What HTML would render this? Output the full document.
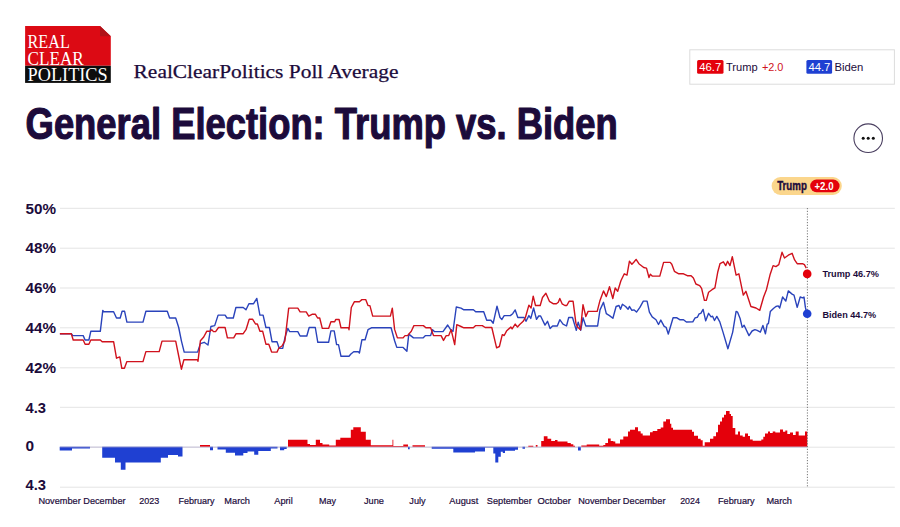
<!DOCTYPE html>
<html><head><meta charset="utf-8"><title>General Election: Trump vs. Biden</title>
<style>
html,body{margin:0;padding:0;background:#fff;}
body{width:900px;height:527px;position:relative;overflow:hidden;font-family:"Liberation Sans",sans-serif;}
</style></head><body>
<svg width="900" height="527" viewBox="0 0 900 527" style="position:absolute;left:0;top:0">
<rect x="60" y="207.8" width="834.8" height="1" fill="#e4e4e4"/>
<rect x="60" y="247.7" width="834.8" height="1" fill="#e4e4e4"/>
<rect x="60" y="287.5" width="834.8" height="1" fill="#e4e4e4"/>
<rect x="60" y="327.3" width="834.8" height="1" fill="#e4e4e4"/>
<rect x="60" y="367.3" width="834.8" height="1" fill="#e4e4e4"/>
<rect x="60" y="406.8" width="834.8" height="1" fill="#e4e4e4"/>
<rect x="60" y="446.7" width="834.8" height="1" fill="#e4e4e4"/>
<rect x="60" y="486.7" width="834.8" height="1" fill="#e4e4e4"/>
<path d="M200.0,446.7 L200.0,445.0 L210.0,445.0 L210.0,446.7 Z M288.0,446.7 L288.0,439.7 L307.5,439.7 L307.5,443.9 L310.0,443.9 L310.0,445.0 L315.8,445.0 L315.8,439.7 L320.0,439.7 L320.0,443.0 L322.5,443.0 L322.5,444.4 L329.2,444.4 L329.2,445.5 L335.8,445.5 L335.8,439.7 L340.3,439.7 L340.3,437.7 L350.8,437.7 L350.8,429.7 L353.3,429.7 L353.3,427.2 L360.8,427.2 L360.8,431.7 L365.8,431.7 L365.8,439.7 L370.8,439.7 L370.8,445.2 L392.5,445.2 L392.5,439.7 L393.3,439.7 L393.3,445.9 L403.3,445.9 L403.3,444.4 L408.0,444.4 L408.0,446.7 Z M412.5,446.7 L412.5,445.2 L425.0,445.2 L425.0,446.7 Z M528.3,446.7 L528.3,445.7 L533.3,445.7 L533.3,446.7 Z M535.8,446.7 L535.8,445.0 L537.5,445.0 L537.5,446.7 Z M541.2,446.7 L541.2,440.9 L543.8,440.9 L543.8,436.2 L547.5,436.2 L547.5,438.7 L551.2,438.7 L551.2,440.9 L555.0,440.9 L555.0,440.0 L557.5,440.0 L557.5,441.4 L567.5,441.4 L567.5,443.0 L570.8,443.0 L570.8,444.2 L573.3,444.2 L573.3,445.7 L575.0,445.7 L575.0,446.7 Z M581.3,446.7 L581.3,445.4 L586.7,445.4 L586.7,444.5 L599.2,444.5 L599.2,445.7 L603.3,445.7 L603.3,445.0 L605.3,445.0 L605.3,442.9 L608.0,442.9 L608.0,438.5 L610.7,438.5 L610.7,440.9 L613.3,440.9 L613.3,441.5 L615.3,441.5 L615.3,443.5 L620.0,443.5 L620.0,439.5 L623.3,439.5 L623.3,436.5 L628.0,436.5 L628.0,431.5 L630.0,431.5 L630.0,429.7 L635.0,429.7 L635.0,427.2 L638.0,427.2 L638.0,431.2 L640.7,431.2 L640.7,433.5 L642.7,433.5 L642.7,435.5 L650.0,435.5 L650.0,432.2 L652.7,432.2 L652.7,430.9 L657.3,430.9 L657.3,428.9 L660.7,428.9 L660.7,427.5 L663.3,427.5 L663.3,421.5 L666.0,421.5 L666.0,419.2 L670.0,419.2 L670.0,423.7 L671.3,423.7 L671.3,427.7 L673.0,427.7 L673.0,429.7 L692.0,429.7 L692.0,431.7 L694.0,431.7 L694.0,435.7 L698.0,435.7 L698.0,438.7 L700.7,438.7 L700.7,440.2 L702.7,440.2 L702.7,445.7 L704.7,445.7 L704.7,442.2 L710.0,442.2 L710.0,438.7 L713.3,438.7 L713.3,436.2 L716.0,436.2 L716.0,432.2 L718.0,432.2 L718.0,424.7 L720.0,424.7 L720.0,421.4 L722.0,421.4 L722.0,417.4 L724.0,417.4 L724.0,414.7 L726.0,414.7 L726.0,411.1 L729.6,411.1 L729.6,414.0 L731.0,414.0 L731.0,416.0 L732.7,416.0 L732.7,428.0 L735.3,428.0 L735.3,434.4 L738.0,434.4 L738.0,431.4 L740.0,431.4 L740.0,435.4 L742.7,435.4 L742.7,436.7 L745.0,436.7 L745.0,433.4 L748.0,433.4 L748.0,436.0 L750.0,436.0 L750.0,439.4 L752.7,439.4 L752.7,440.7 L761.3,440.7 L761.3,439.4 L763.3,439.4 L763.3,436.7 L765.0,436.7 L765.0,433.4 L768.0,433.4 L768.0,431.4 L770.0,431.4 L770.0,433.1 L772.7,433.1 L772.7,431.4 L775.3,431.4 L775.3,432.4 L780.0,432.4 L780.0,429.4 L783.0,429.4 L783.0,431.7 L785.3,431.7 L785.3,430.4 L787.3,430.4 L787.3,434.0 L790.0,434.0 L790.0,432.4 L793.0,432.4 L793.0,435.0 L795.7,435.0 L795.7,431.4 L798.7,431.4 L798.7,435.4 L805.0,435.4 L805.0,431.4 L807.3,431.4 L807.3,446.7 Z" fill="#e4000b"/>
<path d="M59.7,446.7 L59.7,450.5 L72.0,450.5 L72.0,448.4 L90.0,448.4 L90.0,446.7 Z M102.2,446.7 L102.2,457.7 L115.0,457.7 L115.0,462.5 L120.8,462.5 L120.8,469.7 L125.5,469.7 L125.5,462.5 L160.8,462.5 L160.8,457.7 L168.0,457.7 L168.0,455.0 L178.0,455.0 L178.0,456.4 L182.5,456.4 L182.5,446.7 Z M210.0,446.7 L210.0,450.2 L213.0,450.2 L213.0,446.7 Z M217.5,446.7 L217.5,449.4 L225.8,449.4 L225.8,452.7 L235.0,452.7 L235.0,455.5 L243.3,455.5 L243.3,453.0 L247.5,453.0 L247.5,451.4 L254.2,451.4 L254.2,454.7 L258.3,454.7 L258.3,451.0 L270.8,451.0 L270.8,448.4 L277.5,448.4 L277.5,446.7 Z M280.0,446.7 L280.0,450.2 L284.2,450.2 L284.2,448.9 L286.7,448.9 L286.7,446.7 Z M408.0,446.7 L408.0,449.2 L409.7,449.2 L409.7,446.7 Z M431.7,446.7 L431.7,448.7 L453.3,448.7 L453.3,452.5 L475.0,452.5 L475.0,451.4 L485.0,451.4 L485.0,447.5 L493.3,447.5 L493.3,453.4 L495.3,453.4 L495.3,462.5 L498.3,462.5 L498.3,456.7 L500.8,456.7 L500.8,451.7 L502.8,451.7 L502.8,453.0 L505.0,453.0 L505.0,450.7 L515.0,450.7 L515.0,449.7 L518.0,449.7 L518.0,446.7 Z M522.5,446.7 L522.5,448.7 L525.0,448.7 L525.0,446.7 Z M578.0,446.7 L578.0,450.5 L580.8,450.5 L580.8,446.7 Z" fill="#1f40d2"/>
<line x1="60" y1="447.1" x2="807" y2="447.1" stroke="#a79fc8" stroke-width="0.6"/>
<line x1="807.4" y1="208" x2="807.4" y2="487" stroke="#777" stroke-width="1" stroke-dasharray="1.2,1.6"/>
<path d="M59.9,333.7 L71.3,333.7 L72.8,335.6 L83.2,335.6 L85.1,340.0 L88.9,340.0 L90.8,331.3 L100.3,331.3 L102.8,310.4 L103.5,311.7 L113.6,311.7 L116.5,318.0 L120.2,318.0 L122.1,311.3 L124.6,311.3 L126.9,322.1 L143.0,322.1 L145.9,311.3 L167.3,311.3 L169.6,318.0 L175.7,318.0 L178.7,327.5 L181.4,340.8 L184.2,352.1 L197.6,352.1 L200.4,343.6 L204.2,342.3 L208.0,345.0 L210.9,326.5 L214.7,325.6 L218.1,315.1 L225.1,315.1 L227.0,318.0 L233.3,318.0 L235.9,307.5 L243.2,307.5 L246.0,309.8 L248.9,303.7 L253.6,303.7 L256.8,298.4 L259.9,315.1 L263.1,315.1 L265.9,327.5 L269.4,327.5 L272.0,341.7 L277.0,341.7 L279.2,348.4 L282.7,348.4 L284.9,337.9 L287.8,328.4 L289.7,331.6 L297.8,331.6 L300.1,336.0 L306.8,336.0 L309.2,327.5 L315.3,327.5 L317.8,342.3 L328.6,342.3 L330.9,330.9 L334.2,330.9 L336.6,344.6 L338.5,344.6 L341.0,356.3 L349.0,356.3 L350.9,354.0 L353.7,351.8 L358.5,351.8 L359.4,353.1 L361.9,339.8 L365.1,339.8 L368.0,329.7 L371.4,327.8 L391.1,327.8 L394.6,340.8 L396.8,347.4 L403.1,347.4 L406.9,351.2 L408.8,334.1 L413.5,337.9 L423.0,337.9 L425.5,335.6 L430.6,335.6 L432.5,329.7 L434.4,331.6 L443.0,331.6 L447.7,325.0 L450.6,329.7 L453.0,331.3 L456.3,307.0 L461.0,308.1 L463.9,309.8 L473.4,309.8 L475.7,311.8 L483.7,311.8 L486.7,320.3 L490.9,320.3 L493.2,323.2 L497.0,306.1 L500.0,317.5 L501.9,319.4 L504.2,315.6 L510.3,315.6 L512.7,313.7 L515.2,309.9 L517.8,317.5 L524.1,317.5 L526.0,321.3 L528.9,315.6 L530.8,318.4 L533.6,308.0 L536.5,319.4 L538.7,316.0 L540.6,316.0 L545.0,325.1 L547.5,321.3 L550.1,328.5 L552.6,326.0 L557.3,326.0 L559.8,319.7 L563.0,324.1 L566.5,326.0 L568.7,317.5 L572.5,317.5 L576.3,330.4 L578.2,322.2 L580.7,330.4 L583.0,317.8 L585.8,326.0 L597.6,326.0 L600.0,309.9 L603.5,302.3 L606.3,313.7 L609.5,315.6 L612.9,318.2 L616.1,306.5 L619.0,305.5 L620.5,309.3 L622.4,304.2 L625.6,306.5 L628.1,309.3 L629.4,306.5 L631.9,310.3 L634.2,309.9 L636.5,312.1 L639.9,307.4 L643.3,301.1 L647.1,301.1 L649.4,312.1 L652.2,316.9 L656.0,319.7 L658.5,324.5 L660.8,320.1 L664.2,326.4 L666.1,327.3 L668.3,334.0 L673.1,317.8 L676.9,317.8 L679.7,319.7 L683.5,319.7 L686.4,322.0 L692.8,321.9 L695.1,317.9 L697.4,317.3 L699.1,313.9 L700.8,313.3 L703.1,309.4 L705.7,320.8 L708.6,313.3 L711.1,316.8 L712.6,316.2 L714.5,320.5 L716.8,316.4 L719.8,321.9 L723.0,332.1 L727.9,348.7 L732.7,332.1 L736.1,311.4 L737.6,312.2 L740.1,318.5 L742.2,327.4 L744.1,325.3 L749.0,335.6 L752.1,331.0 L754.9,329.6 L757.2,330.4 L760.4,332.1 L762.9,325.5 L765.4,333.8 L767.2,324.2 L768.4,323.6 L770.3,311.6 L773.7,308.2 L775.9,306.5 L778.2,305.9 L779.7,308.0 L782.6,297.0 L785.8,301.1 L788.3,290.9 L792.1,294.1 L794.0,295.1 L797.2,307.4 L800.2,297.0 L802.5,297.9 L804.0,297.0 L805.4,307.4 L806.5,312.0" fill="none" stroke="#2a43bb" stroke-width="1.4" stroke-linejoin="round"/>
<path d="M59.9,333.7 L71.3,333.7 L73.2,340.0 L83.2,340.0 L85.1,344.2 L88.9,344.2 L90.8,340.0 L100.3,340.0 L102.2,341.7 L113.6,341.7 L116.5,358.2 L119.8,356.9 L121.8,368.3 L124.4,368.3 L126.9,361.6 L143.0,361.6 L145.9,351.6 L159.2,351.6 L162.0,341.1 L175.7,341.1 L178.7,356.0 L181.4,369.2 L183.9,359.7 L197.6,359.7 L198.0,361.2 L200.4,340.8 L203.7,337.0 L206.7,331.3 L210.0,331.3 L211.8,329.7 L213.5,331.6 L215.6,331.6 L218.5,327.5 L225.1,327.5 L227.4,337.9 L233.7,337.9 L236.1,333.7 L243.2,333.7 L246.0,329.7 L249.2,319.3 L252.7,319.3 L255.5,324.0 L257.4,324.0 L259.9,331.3 L262.7,331.3 L265.9,344.2 L268.8,344.2 L271.6,352.1 L277.0,352.1 L278.9,348.0 L282.0,346.0 L284.9,340.8 L288.7,308.1 L297.8,308.1 L300.1,311.9 L306.2,311.9 L308.7,316.1 L312.5,314.2 L315.3,314.2 L317.6,318.0 L319.7,318.0 L322.3,328.4 L328.6,328.4 L330.9,321.8 L334.7,321.8 L335.7,319.5 L339.1,319.5 L341.0,327.8 L348.6,327.8 L349.0,329.7 L351.3,307.5 L354.3,301.8 L359.4,301.8 L361.9,299.6 L365.7,299.6 L368.0,305.6 L369.9,305.6 L372.7,316.1 L390.4,316.1 L392.3,308.1 L394.6,329.4 L397.4,337.9 L403.1,337.9 L405.0,335.6 L407.5,335.6 L411.3,331.3 L413.9,325.6 L423.4,325.6 L425.9,327.8 L430.6,327.8 L433.5,335.6 L441.1,335.6 L443.5,340.4 L446.2,335.6 L448.7,335.6 L451.1,329.7 L454.7,344.6 L456.8,324.6 L461.0,326.5 L463.9,327.8 L473.3,327.8 L475.7,325.6 L482.3,325.6 L485.2,327.5 L491.8,327.5 L496.6,347.8 L499.4,346.5 L502.3,334.6 L504.2,335.5 L506.5,331.1 L510.8,327.0 L512.1,328.9 L515.2,324.1 L517.5,327.0 L519.7,324.5 L523.2,321.3 L525.4,317.5 L528.9,305.1 L531.1,308.0 L533.2,296.2 L535.5,305.5 L540.2,305.5 L542.5,297.5 L545.9,293.2 L549.4,301.3 L553.5,303.8 L556.4,303.8 L558.3,302.3 L559.8,298.5 L562.1,303.8 L564.9,305.5 L566.8,305.5 L569.1,301.3 L573.1,301.3 L575.9,323.2 L577.5,327.0 L580.5,329.8 L583.0,304.6 L585.8,316.5 L588.1,311.4 L597.2,311.4 L600.0,300.4 L603.5,290.9 L606.3,296.6 L609.5,286.7 L612.8,298.5 L615.2,288.0 L617.7,291.3 L620.9,280.8 L624.3,273.8 L627.0,275.1 L629.4,261.3 L631.9,264.3 L634.0,262.0 L636.1,259.4 L638.9,263.7 L643.7,267.5 L646.5,268.1 L649.0,277.6 L650.3,274.2 L652.2,276.1 L659.8,276.1 L663.6,262.4 L670.2,262.4 L671.8,264.3 L674.4,271.3 L678.8,273.8 L683.5,273.8 L687.3,275.7 L691.1,275.7 L693.4,278.0 L695.9,284.0 L699.7,285.6 L701.6,288.4 L704.4,300.4 L706.3,300.4 L708.6,292.2 L712.0,289.7 L714.9,287.8 L717.7,272.3 L720.0,263.7 L723.4,261.8 L725.7,265.6 L727.6,261.3 L730.0,265.6 L732.3,256.7 L736.1,275.1 L738.9,273.8 L743.3,295.1 L745.9,291.3 L750.9,306.5 L756.0,308.0 L759.8,310.3 L763.6,297.0 L766.5,289.4 L770.2,274.2 L773.1,265.6 L775.9,266.6 L778.8,264.7 L782.0,252.3 L784.5,258.0 L788.3,255.2 L792.1,253.3 L794.6,259.9 L797.2,263.7 L802.5,263.7 L804.4,264.7 L806.3,268.1" fill="none" stroke="#d0121d" stroke-width="1.4" stroke-linejoin="round"/>
<circle cx="807.2" cy="273.9" r="4.3" fill="#e4000b"/>
<circle cx="807.2" cy="313.8" r="4.3" fill="#1f40d2"/>
<text x="25.5" y="213.5" font-family="Liberation Sans, sans-serif" font-size="14.9" font-weight="700" fill="#1c0b3b" textLength="30.5" lengthAdjust="spacingAndGlyphs">50%</text>
<text x="25.5" y="253.4" font-family="Liberation Sans, sans-serif" font-size="14.9" font-weight="700" fill="#1c0b3b" textLength="30.5" lengthAdjust="spacingAndGlyphs">48%</text>
<text x="25.5" y="293.2" font-family="Liberation Sans, sans-serif" font-size="14.9" font-weight="700" fill="#1c0b3b" textLength="30.5" lengthAdjust="spacingAndGlyphs">46%</text>
<text x="25.5" y="333.0" font-family="Liberation Sans, sans-serif" font-size="14.9" font-weight="700" fill="#1c0b3b" textLength="30.5" lengthAdjust="spacingAndGlyphs">44%</text>
<text x="25.5" y="373.0" font-family="Liberation Sans, sans-serif" font-size="14.9" font-weight="700" fill="#1c0b3b" textLength="30.5" lengthAdjust="spacingAndGlyphs">42%</text>
<text x="25.5" y="413.4" font-family="Liberation Sans, sans-serif" font-size="14.9" font-weight="700" fill="#1c0b3b" textLength="20.5" lengthAdjust="spacingAndGlyphs">4.3</text>
<text x="25.5" y="450.5" font-family="Liberation Sans, sans-serif" font-size="14.9" font-weight="700" fill="#1c0b3b" textLength="8.6" lengthAdjust="spacingAndGlyphs">0</text>
<text x="25.5" y="490" font-family="Liberation Sans, sans-serif" font-size="14.9" font-weight="700" fill="#1c0b3b" textLength="20.5" lengthAdjust="spacingAndGlyphs">4.3</text>
<text x="38.4" y="504" font-family="Liberation Sans, sans-serif" font-size="9.8" fill="#1c0b3b" stroke="#1c0b3b" stroke-width="0.2" textLength="42.3" lengthAdjust="spacingAndGlyphs">November</text>
<text x="83.3" y="504" font-family="Liberation Sans, sans-serif" font-size="9.8" fill="#1c0b3b" stroke="#1c0b3b" stroke-width="0.2" textLength="42.3" lengthAdjust="spacingAndGlyphs">December</text>
<text x="139.3" y="504" font-family="Liberation Sans, sans-serif" font-size="9.8" fill="#1c0b3b" stroke="#1c0b3b" stroke-width="0.2" textLength="20.0" lengthAdjust="spacingAndGlyphs">2023</text>
<text x="178.4" y="504" font-family="Liberation Sans, sans-serif" font-size="9.8" fill="#1c0b3b" stroke="#1c0b3b" stroke-width="0.2" textLength="36.0" lengthAdjust="spacingAndGlyphs">February</text>
<text x="224.3" y="504" font-family="Liberation Sans, sans-serif" font-size="9.8" fill="#1c0b3b" stroke="#1c0b3b" stroke-width="0.2" textLength="25.7" lengthAdjust="spacingAndGlyphs">March</text>
<text x="274.3" y="504" font-family="Liberation Sans, sans-serif" font-size="9.8" fill="#1c0b3b" stroke="#1c0b3b" stroke-width="0.2" textLength="18.4" lengthAdjust="spacingAndGlyphs">April</text>
<text x="319" y="504" font-family="Liberation Sans, sans-serif" font-size="9.8" fill="#1c0b3b" stroke="#1c0b3b" stroke-width="0.2" textLength="17.0" lengthAdjust="spacingAndGlyphs">May</text>
<text x="364" y="504" font-family="Liberation Sans, sans-serif" font-size="9.8" fill="#1c0b3b" stroke="#1c0b3b" stroke-width="0.2" textLength="20.0" lengthAdjust="spacingAndGlyphs">June</text>
<text x="409.3" y="504" font-family="Liberation Sans, sans-serif" font-size="9.8" fill="#1c0b3b" stroke="#1c0b3b" stroke-width="0.2" textLength="16.4" lengthAdjust="spacingAndGlyphs">July</text>
<text x="449.3" y="504" font-family="Liberation Sans, sans-serif" font-size="9.8" fill="#1c0b3b" stroke="#1c0b3b" stroke-width="0.2" textLength="29.0" lengthAdjust="spacingAndGlyphs">August</text>
<text x="486.8" y="504" font-family="Liberation Sans, sans-serif" font-size="9.8" fill="#1c0b3b" stroke="#1c0b3b" stroke-width="0.2" textLength="45.0" lengthAdjust="spacingAndGlyphs">September</text>
<text x="537.4" y="504" font-family="Liberation Sans, sans-serif" font-size="9.8" fill="#1c0b3b" stroke="#1c0b3b" stroke-width="0.2" textLength="33.6" lengthAdjust="spacingAndGlyphs">October</text>
<text x="578.2" y="504" font-family="Liberation Sans, sans-serif" font-size="9.8" fill="#1c0b3b" stroke="#1c0b3b" stroke-width="0.2" textLength="42.3" lengthAdjust="spacingAndGlyphs">November</text>
<text x="622.8" y="504" font-family="Liberation Sans, sans-serif" font-size="9.8" fill="#1c0b3b" stroke="#1c0b3b" stroke-width="0.2" textLength="42.7" lengthAdjust="spacingAndGlyphs">December</text>
<text x="680.2" y="504" font-family="Liberation Sans, sans-serif" font-size="9.8" fill="#1c0b3b" stroke="#1c0b3b" stroke-width="0.2" textLength="19.7" lengthAdjust="spacingAndGlyphs">2024</text>
<text x="718" y="504" font-family="Liberation Sans, sans-serif" font-size="9.8" fill="#1c0b3b" stroke="#1c0b3b" stroke-width="0.2" textLength="36.6" lengthAdjust="spacingAndGlyphs">February</text>
<text x="766.4" y="504" font-family="Liberation Sans, sans-serif" font-size="9.8" fill="#1c0b3b" stroke="#1c0b3b" stroke-width="0.2" textLength="25.6" lengthAdjust="spacingAndGlyphs">March</text>
<text x="822.4" y="277.1" font-family="Liberation Sans, sans-serif" font-size="9.4" font-weight="700" fill="#1c0b3b" textLength="56.5" lengthAdjust="spacingAndGlyphs">Trump 46.7%</text>
<text x="822.4" y="317.7" font-family="Liberation Sans, sans-serif" font-size="9.4" font-weight="700" fill="#1c0b3b" textLength="53.7" lengthAdjust="spacingAndGlyphs">Biden 44.7%</text>
<rect x="771.6" y="177.1" width="70.2" height="17.8" rx="8.9" fill="#fbd68c"/>
<rect x="810.2" y="179.6" width="29.4" height="12.6" rx="6.3" fill="#e4000b"/>
<text x="777.2" y="190.1" font-family="Liberation Sans, sans-serif" font-size="12" font-weight="700" fill="#1c0b3b" stroke="#1c0b3b" stroke-width="0.4" textLength="29.7" lengthAdjust="spacingAndGlyphs">Trump</text>
<text x="814.5" y="189.6" font-family="Liberation Sans, sans-serif" font-size="10" font-weight="700" fill="#fff" textLength="19" lengthAdjust="spacingAndGlyphs">+2.0</text>
<text x="25.6" y="139.0" font-family="Liberation Sans, sans-serif" font-size="44" font-weight="700" fill="#1c0b3b" stroke="#1c0b3b" stroke-width="1.2" stroke-linejoin="round" textLength="592.2" lengthAdjust="spacingAndGlyphs">General Election: Trump vs. Biden</text>
<text x="133.6" y="78.4" font-family="Liberation Serif, serif" font-size="19.2" fill="#1c0b3b" stroke="#1c0b3b" stroke-width="0.25" textLength="264.8" lengthAdjust="spacingAndGlyphs">RealClearPolitics Poll Average</text>
<path d="M25.1,26.1 L100,26.1 L110.8,36.3 L110.8,65.8 L25.1,65.8 Z" fill="#dc0a14"/>
<path d="M100,26.1 L110.8,36.3 L100,36.3 Z" fill="#b01218"/>
<rect x="25.1" y="65.8" width="85.7" height="17.1" fill="#0d0d0d"/>
<text x="27.6" y="47.8" font-family="Liberation Serif, serif" font-size="19.5" fill="#fff" textLength="42.2" lengthAdjust="spacingAndGlyphs">REAL</text>
<text x="27.6" y="64.6" font-family="Liberation Serif, serif" font-size="19.5" fill="#fff" textLength="56.2" lengthAdjust="spacingAndGlyphs">CLEAR</text>
<text x="27.6" y="80.6" font-family="Liberation Serif, serif" font-size="19.2" fill="#fff" textLength="80.1" lengthAdjust="spacingAndGlyphs">POLITICS</text>
<rect x="689.8" y="49.8" width="204.6" height="34.4" fill="#fff" stroke="#dcdcdc" stroke-width="1"/>
<rect x="697.1" y="60" width="26.4" height="13.7" rx="1.5" fill="#e4000b"/>
<text x="699.3" y="71.2" font-family="Liberation Sans, sans-serif" font-size="11.2" fill="#fff" textLength="22" lengthAdjust="spacingAndGlyphs">46.7</text>
<text x="726" y="71.2" font-family="Liberation Sans, sans-serif" font-size="11.2" fill="#1c0b3b" textLength="31.7" lengthAdjust="spacingAndGlyphs">Trump</text>
<text x="761.9" y="71.2" font-family="Liberation Sans, sans-serif" font-size="11.2" fill="#d0121b" textLength="21.5" lengthAdjust="spacingAndGlyphs">+2.0</text>
<rect x="806.4" y="60" width="25.7" height="13.7" rx="1.5" fill="#1f40d2"/>
<text x="808.4" y="71.2" font-family="Liberation Sans, sans-serif" font-size="11.2" fill="#fff" textLength="22" lengthAdjust="spacingAndGlyphs">44.7</text>
<text x="834.5" y="71.2" font-family="Liberation Sans, sans-serif" font-size="11.2" fill="#1c0b3b" textLength="28.9" lengthAdjust="spacingAndGlyphs">Biden</text>
<circle cx="868.2" cy="138.2" r="14.3" fill="#fff" stroke="#4a3f60" stroke-width="1.1"/>
<circle cx="863.2" cy="138.2" r="1.5" fill="#111"/>
<circle cx="868.2" cy="138.2" r="1.5" fill="#111"/>
<circle cx="873.3000000000001" cy="138.2" r="1.5" fill="#111"/>
</svg>
</body></html>
